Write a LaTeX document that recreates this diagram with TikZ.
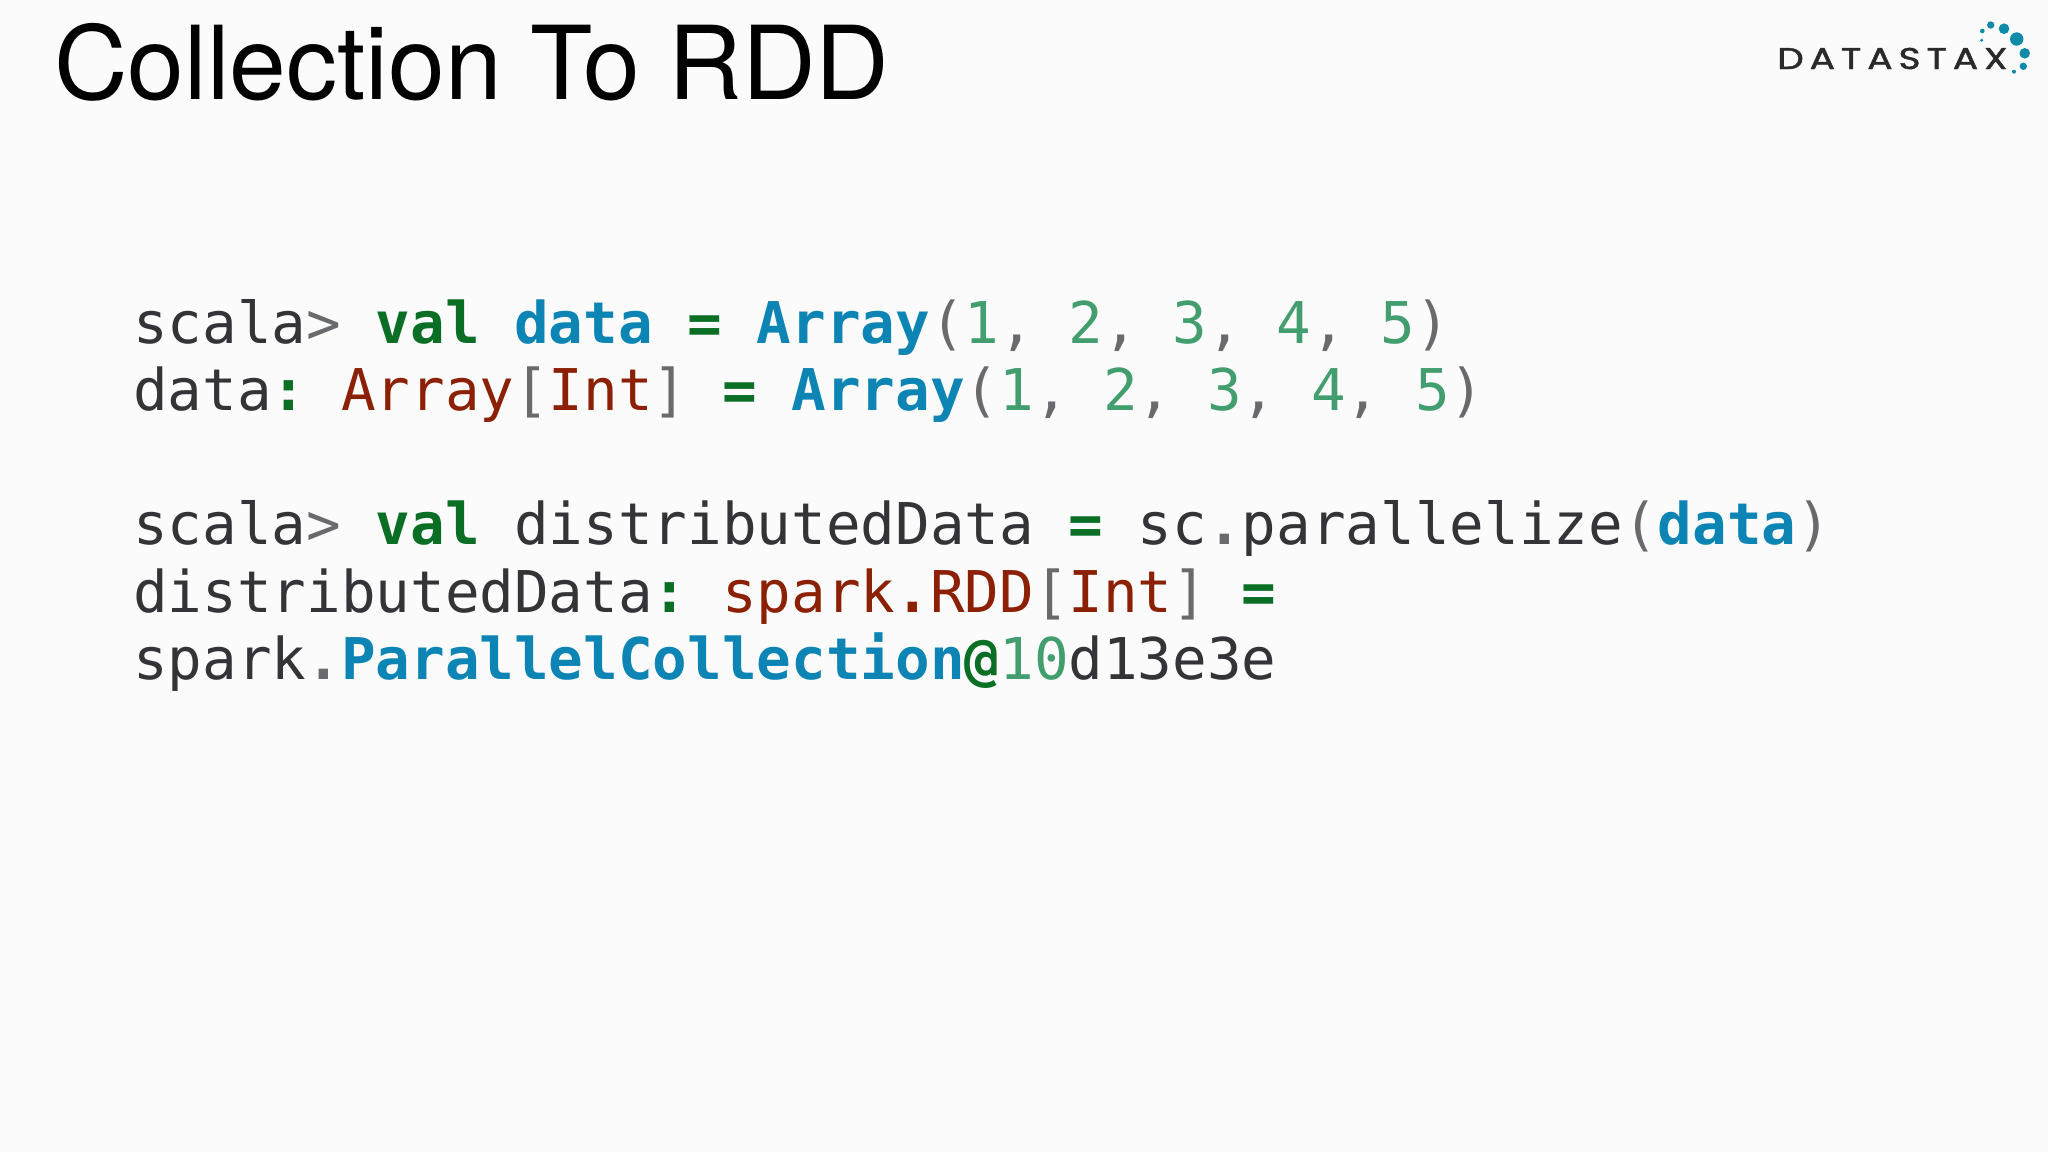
\documentclass[tikz,border=0pt]{standalone}
\usepackage{fontspec}
\setmainfont{TeX Gyre Heros}
\setmonofont{DejaVu Sans Mono}
\newfontfamily\logofont[LetterSpace=16,FakeBold=1.5]{Poppins}
\definecolor{slidebg}{HTML}{FBFBFC}
\definecolor{plain}{HTML}{333338}
\definecolor{paren}{HTML}{6A6A6E}
\definecolor{kw}{HTML}{0A6E24}
\definecolor{ident}{HTML}{0C84B4}
\definecolor{num}{HTML}{429E6E}
\definecolor{typ}{HTML}{8C2004}
\definecolor{logotxt}{HTML}{2A2A2A}
\definecolor{logodot}{HTML}{0F8AA8}
\newcommand{\kw}[1]{\textcolor{kw}{\textbf{#1}}}
\newcommand{\ident}[1]{\textcolor{ident}{\textbf{#1}}}
\newcommand{\num}[1]{\textcolor{num}{#1}}
\newcommand{\typ}[1]{\textcolor{typ}{#1}}
\newcommand{\prn}[1]{\textcolor{paren}{#1}}
\newcommand{\dotprn}{\textcolor{paren}{\textbf{.}}}
\begin{document}
\begin{tikzpicture}[x=1pt,y=-1pt]
	\tikzstyle{Code} = [anchor=base west, inner sep=0, text=plain, font=\ttfamily\fontsize{57.55}{60}\selectfont]
	\tikzstyle{Title} = [anchor=base west, inner sep=0, text=black, font=\fontsize{102}{110}\selectfont]
	\tikzstyle{Logo} = [anchor=base west, inner sep=0, text=logotxt, font=\logofont\fontsize{30}{32}\selectfont]

	\fill[slidebg] (0,0) rectangle (2048,1152);
	\useasboundingbox (0,0) rectangle (2048,1152);

	\node (title) [Title] at (54,99) {Collection To RDD};
	\node (logo) [Logo] at (1777,69) {\scalebox{1.25}[1]{DATASTAX}};

	\node (line1) [Code] at (133,343) {scala\prn{>} \kw{val} \ident{data} \kw{=} \ident{Array}\prn{(}\num{1}\prn{,} \num{2}\prn{,} \num{3}\prn{,} \num{4}\prn{,} \num{5}\prn{)}};
	\node (line2) [Code] at (133,410) {data\kw{:} \typ{Array}\prn{[}\typ{Int}\prn{]} \kw{=} \ident{Array}\prn{(}\num{1}\prn{,} \num{2}\prn{,} \num{3}\prn{,} \num{4}\prn{,} \num{5}\prn{)}};
	\node (line3) [Code] at (133,544) {scala\prn{>} \kw{val} distributedData \kw{=} sc\dotprn parallelize\prn{(}\ident{data}\prn{)}};
	\node (line4) [Code] at (133,612) {distributedData\kw{:} \typ{spark}\textcolor{typ}{\textbf{.}}\typ{RDD}\prn{[}\typ{Int}\prn{]} \kw{=}};
	\node (line5) [Code] at (133,679) {spark\dotprn\ident{ParallelCollection}\kw{@}\num{10}d13e3e};

	\foreach \x/\y/\r in {1982.3/31/2.3,1990.7/25/3.7,2004/28.7/5.3,2016.7/39/6.7,2024.7/53.3/5.3,2023.3/66.3/3.7,2014/71.7/2,1981.7/40.3/1.7}
		\fill[logodot] (\x,\y) circle[radius=\r];
\end{tikzpicture}
\end{document}
